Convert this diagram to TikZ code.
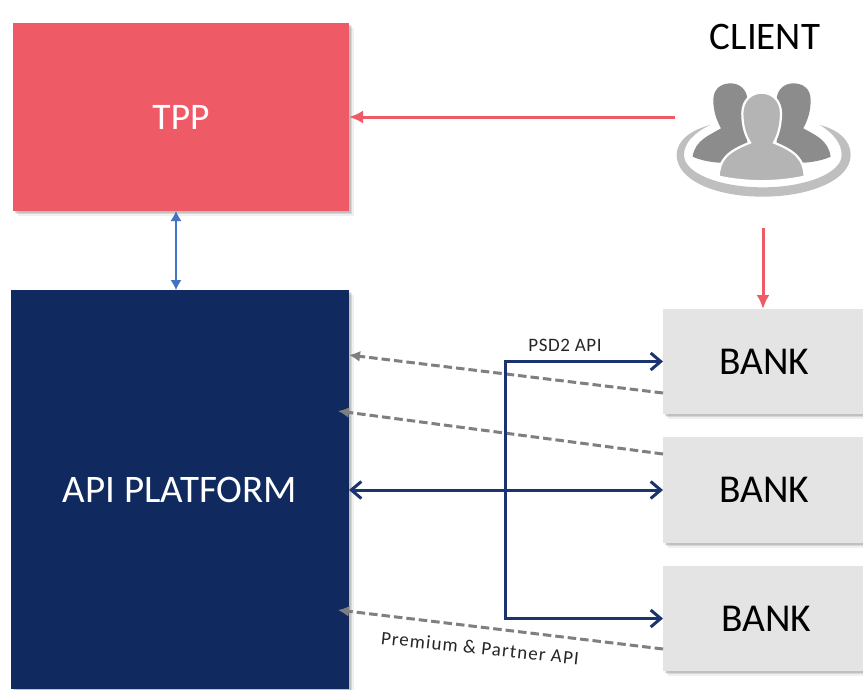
\documentclass[tikz,border=0pt]{standalone}
\usepackage{fontspec}
\setmainfont{Carlito}
\usetikzlibrary{arrows.meta,shadows,calc}
\definecolor{tppred}{HTML}{EE5A65}
\definecolor{navy}{HTML}{10295E}
\definecolor{navyline}{HTML}{1B3470}
\definecolor{bankgray}{HTML}{E4E4E4}
\definecolor{linkblue}{HTML}{4472C4}
\definecolor{dashgray}{HTML}{7F7F7F}
\definecolor{backperson}{HTML}{8C8C8C}
\definecolor{frontperson}{HTML}{B4B4B4}
\tikzset{
  softshadow/.style={
    drop shadow={shadow xshift=1.5pt,shadow yshift=-1.5pt,fill=black,opacity=.10},
    drop shadow={shadow xshift=3pt,shadow yshift=-3pt,fill=black,opacity=.10},
    drop shadow={shadow xshift=4.5pt,shadow yshift=-4.5pt,fill=black,opacity=.06}},
  boxbase/.style={inner sep=0pt,outer sep=0pt,anchor=north west,softshadow},
  tppbox/.style={boxbase,fill=tppred,text=white,font=\fontsize{37.5}{37.5}\selectfont},
  apibox/.style={boxbase,fill=navy,text=white,font=\fontsize{39}{39}\selectfont},
  bankbox/.style={boxbase,fill=bankgray,text=black,minimum width=202pt,font=\fontsize{39.5}{39.5}\selectfont},
  redarrow/.style={draw=tppred,line width=3pt,-{Latex[length=14pt,width=13pt]}},
  bluearrow/.style={draw=linkblue,line width=1.3pt,{Latex[length=10pt,width=11pt]}-{Latex[length=10pt,width=11pt]}},
  navyconn/.style={draw=navyline,line width=3pt,line join=miter,>={Straight Barb[length=10pt,width=17pt,line width=3pt]}},
  dasharrow/.style={draw=dashgray,line width=3pt,dash pattern=on 8.5pt off 4pt,-{Latex[length=11pt,width=11pt]}},
  smalllabel/.style={inner sep=0pt,text=black!85,font=\fontsize{19}{19}\selectfont},
  clienttitle/.style={inner sep=0pt,text=black,font=\fontsize{39}{39}\selectfont},
  iconarea/.style={inner sep=0pt,outer sep=0pt,minimum width=177pt,minimum height=117pt}
}
\begin{document}
\begin{tikzpicture}[x=1pt,y=-1pt]
\useasboundingbox (0,0) rectangle (863,689);
\clip (0,0) rectangle (863,689);
\fill[white] (0,0) rectangle (863,689);
\node[tppbox,minimum width=336pt,minimum height=188pt] (tpp) at (13,23) {TPP};
\node[apibox,minimum width=338pt,minimum height=399pt] (api) at (11,290) {\raisebox{-4pt}{API PLATFORM}};
\node[bankbox,minimum height=105pt] (bank1) at (663,309) {\raisebox{-4pt}{BANK}};
\node[bankbox,minimum height=106pt] (bank2) at (663,437) {BANK};
\node[bankbox,minimum height=105pt] (bank3) at (663,566) {\hspace{4pt}BANK};
\node[clienttitle] (client) at (765,37) {CLIENT};
\node[iconarea] (clienticon) at (763.5,138) {};
\begin{scope}[shift={(660,0)},x=0.3333pt,y=-0.3333pt]
  \fill[frontperson!85!white,even odd rule] (50,465) .. controls (50,420) and (95,390) .. (150,375)
     .. controls (100,400) and (72,430) .. (72,465)
     .. controls (72,520) and (180,562) .. (308,562)
     .. controls (436,562) and (545,520) .. (545,465)
     .. controls (545,430) and (520,400) .. (480,375)
     .. controls (535,390) and (572,420) .. (572,465)
     .. controls (572,540) and (450,590) .. (308,590)
     .. controls (165,590) and (50,540) .. (50,465) -- cycle;
  \fill[backperson] (98,470) .. controls (105,420) and (150,405) .. (183,385)
     .. controls (170,360) and (160,335) .. (160,300)
     .. controls (160,265) and (185,250) .. (212,250)
     .. controls (240,250) and (262,270) .. (262,300)
     -- (262,480) -- (175,488) .. controls (140,485) and (115,478) .. (98,470) -- cycle;
  \fill[backperson] (512,470) .. controls (505,420) and (465,405) .. (430,385)
     .. controls (443,360) and (452,335) .. (452,300)
     .. controls (452,265) and (428,250) .. (400,250)
     .. controls (372,250) and (350,270) .. (350,300)
     -- (350,480) -- (435,488) .. controls (470,485) and (495,478) .. (512,470) -- cycle;
  \fill[frontperson,draw=white,line width=2.2pt] (176,530) .. controls (178,480) and (200,455) .. (270,428)
     .. controls (255,405) and (247,375) .. (247,340)
     .. controls (247,300) and (275,278) .. (305,278)
     .. controls (335,278) and (363,300) .. (363,340)
     .. controls (363,375) and (355,405) .. (342,428)
     .. controls (410,455) and (432,480) .. (434,530)
     .. controls (350,548) and (260,548) .. (176,530) -- cycle;
\end{scope}
\coordinate (clientout) at (763,228);
\coordinate (linkx) at (176,250);
\coordinate (trunk) at (505,450);
% red arrows
\draw[redarrow] (clienticon.west |- tpp.east) -- (tpp.east);
\draw[redarrow] (clientout) -- (clientout |- bank1.north);
% blue link
\draw[bluearrow] (linkx |- tpp.south) -- (linkx |- api.north);
% dashed returns
\draw[dasharrow] ([yshift=-31.5pt]bank1.west) -- ([yshift=134.5pt]api.east);
\draw[dasharrow] ([yshift=36pt]bank2.west) -- ([xshift=-11pt,yshift=78.5pt]api.east);
\draw[dasharrow] ([yshift=-30.5pt]bank3.west) -- ([xshift=-11pt,yshift=-120.5pt]api.east);
% navy connectors
\draw[navyconn,<->] (api.east |- bank2.west) -- (bank2.west);
\draw[navyconn,->] (trunk) |- (bank1.west);
\draw[navyconn,->] (trunk) |- (bank3.west);
% labels
\node[smalllabel] (psd) at (565,345) {\addfontfeature{LetterSpace=3}PSD2 API};
\node[smalllabel,rotate=-6] (premium) at (480,648) {\addfontfeature{LetterSpace=6}Premium \& Partner API};
\end{tikzpicture}
\end{document}
